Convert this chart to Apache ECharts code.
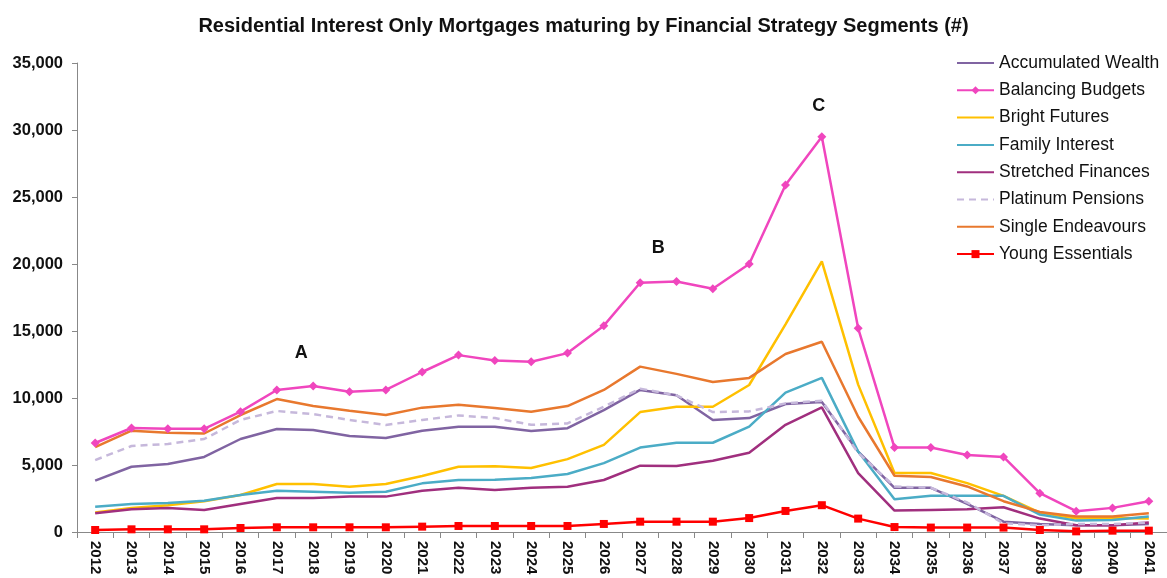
<!DOCTYPE html>
<html><head><meta charset="utf-8">
<script src="https://cdn.jsdelivr.net/npm/echarts@6/dist/echarts.min.js"></script>
<style>html,body{margin:0;padding:0;background:#fff}#c{width:1167px;height:578px}</style>
</head><body><div id="c"></div>
<script>
const years = ['2012','2013','2014','2015','2016','2017','2018','2019','2020','2021','2022','2023','2024','2025','2026','2027','2028','2029','2030','2031','2032','2033','2034','2035','2036','2037','2038','2039','2040','2041'];
const accumulatedWealth = [3830,4870,5070,5600,6940,7690,7610,7160,7010,7560,7850,7850,7530,7750,9100,10600,10200,8360,8500,9550,9700,6000,3300,3300,2100,770,600,500,500,600];
const balancingBudgets = [6640,7760,7700,7700,8980,10600,10900,10470,10600,11940,13200,12800,12700,13350,15400,18600,18700,18150,20000,25900,29500,15200,6300,6300,5750,5600,2900,1550,1800,2300];
const brightFutures = [1450,1790,2000,2300,2760,3580,3580,3380,3580,4180,4870,4900,4770,5440,6500,8950,9350,9350,10970,15500,20200,11000,4400,4400,3650,2700,1450,1000,1050,1000];
const familyInterest = [1890,2090,2160,2340,2760,3080,3010,2930,3010,3630,3880,3900,4030,4330,5140,6300,6660,6660,7860,10400,11500,6000,2450,2700,2700,2700,1300,850,900,1150];
const stretchedFinances = [1400,1700,1790,1640,2090,2540,2540,2640,2640,3080,3300,3130,3300,3370,3880,4950,4930,5320,5920,8000,9300,4400,1600,1650,1700,1850,1000,500,500,700];
const platinumPensions = [5370,6420,6570,6940,8360,9030,8800,8360,7990,8360,8700,8500,8000,8100,9350,10700,10200,8950,9000,9600,9800,5900,3400,3300,2200,650,500,600,600,700];
const singleEndeavours = [6340,7560,7410,7350,8730,9920,9400,9050,8730,9280,9500,9250,8980,9400,10600,12340,11800,11200,11500,13280,14200,8600,4200,4100,3400,2300,1500,1150,1150,1400];
const youngEssentials = [150,200,200,200,300,350,350,350,350,400,450,450,450,450,600,770,770,770,1040,1570,2000,1000,370,330,330,330,150,50,100,100];
const yTicks = [0,5000,10000,15000,20000,25000,30000,35000];
const annotationLabels = ['A','B','C'];
const annotationYears = ['2018','2027','2032'];
const annotationValues = [13360,21200,31800];

const FONT = '"Liberation Sans", Arial, sans-serif';
function line(name, data, color, extra) {
  return Object.assign({
    name, type: 'line', data, showSymbol: false, symbol: 'none',
    lineStyle: { color, width: 2.5 }, itemStyle: { color },
    emphasis: { disabled: true }, animation: false, z: 2
  }, extra || {});
}
const names = ['Accumulated Wealth','Balancing Budgets','Bright Futures','Family Interest','Stretched Finances','Platinum Pensions','Single Endeavours','Young Essentials'];
const withMarker = ['Balancing Budgets','Young Essentials'];
const chart = echarts.init(document.getElementById('c'));
chart.setOption({
  animation: false,
  textStyle: { fontFamily: FONT },
  title: { text: 'Residential Interest Only Mortgages maturing by Financial Strategy Segments (#)', left: 'center', top: 11,
    textStyle: { fontFamily: FONT, fontSize: 20, fontWeight: 'bold', color: '#111' } },
  legend: {
    orient: 'vertical', left: 956, top: 54, itemGap: 9.3, itemWidth: 37, itemHeight: 10,
    textStyle: { fontFamily: FONT, fontSize: 17.5, color: '#111' },
    padding: 0,
    data: names.map(n => withMarker.includes(n) ? { name: n } : { name: n, itemStyle: { opacity: 0 } })
  },
  grid: { left: 77, right: -4, top: 63, bottom: 46, containLabel: false },
  xAxis: {
    type: 'category', data: years, boundaryGap: true,
    axisLine: { lineStyle: { color: '#888', width: 1 } },
    axisTick: { show: true, alignWithLabel: false, length: 6, lineStyle: { color: '#888' } },
    axisLabel: { rotate: -90, interval: 0, fontSize: 15, fontWeight: 'bold', color: '#111', margin: 9, fontFamily: FONT }
  },
  yAxis: {
    type: 'value', min: yTicks[0], max: yTicks[yTicks.length - 1], interval: 5000,
    axisLine: { show: true, lineStyle: { color: '#888' } },
    axisTick: { show: true, length: 5, lineStyle: { color: '#888' } },
    splitLine: { show: false },
    axisLabel: { fontSize: 16.5, fontWeight: 'bold', color: '#111', margin: 14, fontFamily: FONT,
      formatter: v => v.toLocaleString('en-US') }
  },
  series: [
    line('Accumulated Wealth', accumulatedWealth, '#8064A2'),
    line('Balancing Budgets', balancingBudgets, '#F046BE', { showSymbol: true, symbol: 'diamond', symbolSize: 9, z: 5,
      markPoint: { symbol: 'circle', symbolSize: 0, silent: true,
        label: { show: true, formatter: p => p.name, fontSize: 18, fontWeight: 'bold', color: '#111', fontFamily: FONT },
        data: annotationLabels.map((l, i) => ({ name: l, coord: [annotationYears[i], annotationValues[i]],
          label: { offset: [[-12, 0], [18, 0], [-3, 0]][i] } })) } }),
    line('Bright Futures', brightFutures, '#FFC000'),
    line('Family Interest', familyInterest, '#4BACC6'),
    line('Stretched Finances', stretchedFinances, '#A02F7E'),
    line('Platinum Pensions', platinumPensions, '#C6B8DB', { lineStyle: { color: '#C6B8DB', width: 2.5, type: [7, 5] } }),
    line('Single Endeavours', singleEndeavours, '#E8782E'),
    line('Young Essentials', youngEssentials, '#FF0000', { showSymbol: true, symbol: 'rect', symbolSize: 8, z: 5 })
  ]
});
</script></body></html>
